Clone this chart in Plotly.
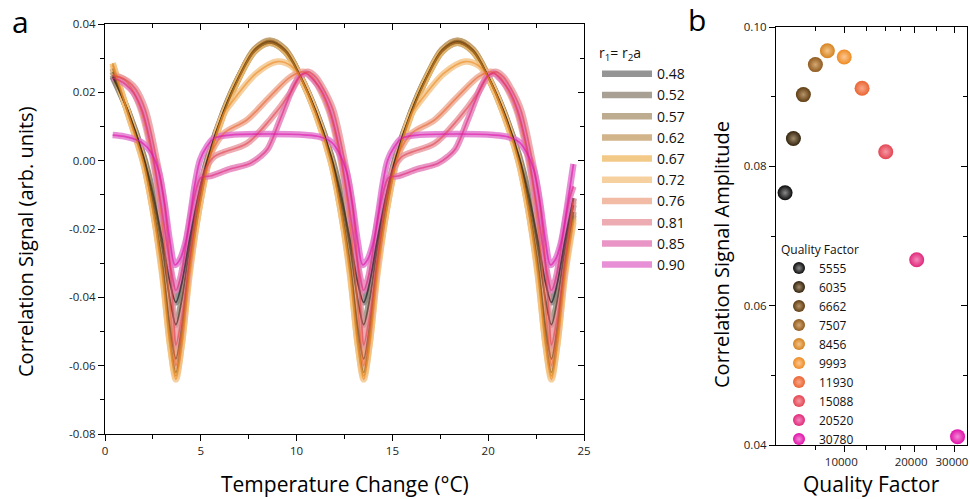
import plotly.graph_objects as go

# ---------------- Panel a data ----------------
r_labels = ["0.48", "0.52", "0.57", "0.62", "0.67", "0.72", "0.76", "0.81", "0.85", "0.90"]

x_dark = [0.4, 1.2, 2.0, 2.5, 3.0, 3.4, 3.7, 4.0, 4.4, 4.9, 5.4, 6.2, 7.0, 7.8, 8.6, 9.4, 10.2, 11.0, 11.8,
          12.3, 12.8, 13.2, 13.5, 13.8, 14.2, 14.7, 15.2, 16.0, 16.8, 17.6, 18.4, 19.2, 20.0, 20.8, 21.6,
          22.1, 22.6, 23.0, 23.3, 23.6, 24.0, 24.45]
y_048 = [0.0245, 0.0145, 0.0015, -0.0095, -0.0235, -0.036, -0.0415, -0.036, -0.0235, -0.0095, 0.0015, 0.0145,
         0.0245, 0.032, 0.0345, 0.032, 0.0245, 0.0145, 0.0015, -0.0095, -0.0235, -0.036, -0.0415, -0.036,
         -0.0235, -0.0095, 0.0015, 0.0145, 0.0245, 0.032, 0.0345, 0.032, 0.0245, 0.0145, 0.0015, -0.0095,
         -0.0235, -0.036, -0.0415, -0.036, -0.0235, -0.011]
y_052 = [0.025, 0.0145, 0.001, -0.011, -0.026, -0.041, -0.048, -0.041, -0.026, -0.011, 0.001, 0.0145,
         0.0247, 0.0323, 0.0348, 0.0323, 0.0247, 0.0145, 0.001, -0.011, -0.026, -0.041, -0.048, -0.041,
         -0.026, -0.011, 0.001, 0.0145, 0.0247, 0.0323, 0.0348, 0.0323, 0.0247, 0.0145, 0.001, -0.011,
         -0.026, -0.041, -0.048, -0.041, -0.026, -0.013]
y_057 = [0.026, 0.0142, 0.0005, -0.013, -0.030, -0.049, -0.058, -0.049, -0.030, -0.013, 0.0005, 0.0142,
         0.0245, 0.0325, 0.035, 0.0325, 0.0245, 0.0142, 0.0005, -0.013, -0.030, -0.049, -0.058, -0.049,
         -0.030, -0.013, 0.0005, 0.0142, 0.0245, 0.0325, 0.035, 0.0325, 0.0245, 0.0142, 0.0005, -0.013,
         -0.030, -0.049, -0.058, -0.049, -0.030, -0.015]
y_062 = [0.027, 0.014, 0.0, -0.014, -0.032, -0.052, -0.062, -0.052, -0.032, -0.014, 0.0, 0.014,
         0.0245, 0.0325, 0.0352, 0.0325, 0.0245, 0.014, 0.0, -0.014, -0.032, -0.052, -0.062, -0.052,
         -0.032, -0.014, 0.0, 0.014, 0.0245, 0.0325, 0.0352, 0.0325, 0.0245, 0.014, 0.0, -0.014,
         -0.032, -0.052, -0.062, -0.052, -0.032, -0.016]
y_067 = [0.0285, 0.0138, -0.0005, -0.0145, -0.033, -0.054, -0.063, -0.054, -0.033, -0.0145, -0.0005, 0.0138,
         0.0243, 0.032, 0.0345, 0.032, 0.0243, 0.0138, -0.0005, -0.0145, -0.033, -0.054, -0.063, -0.054,
         -0.033, -0.0145, -0.0005, 0.0138, 0.0243, 0.032, 0.0345, 0.032, 0.0243, 0.0138, -0.0005, -0.0145,
         -0.033, -0.054, -0.063, -0.054, -0.033, -0.017]

x_072 = [0.4, 1.2, 2.0, 2.5, 3.0, 3.4, 3.7, 4.0, 4.4, 4.9, 5.4, 6.2, 6.6, 7.9, 9.0, 9.7, 10.2, 11.0, 11.8,
         12.3, 12.8, 13.2, 13.5, 13.8, 14.2, 14.7, 15.2, 16.0, 16.4, 17.7, 18.8, 19.5, 20.0, 20.8, 21.6,
         22.1, 22.6, 23.0, 23.3, 23.6, 24.0, 24.45]
y_072 = [0.028, 0.0138, -0.0005, -0.0145, -0.034, -0.054, -0.064, -0.054, -0.034, -0.0145, -0.0005, 0.0138,
         0.017, 0.0256, 0.029, 0.0278, 0.0243, 0.0138, -0.0005, -0.0145, -0.034, -0.054, -0.064, -0.054,
         -0.034, -0.0145, -0.0005, 0.0138, 0.017, 0.0256, 0.029, 0.0278, 0.0243, 0.0138, -0.0005, -0.0145,
         -0.034, -0.054, -0.064, -0.054, -0.034, -0.018]

x_076 = [0.4, 1.0, 1.4, 1.9, 2.4, 2.9, 3.3, 3.55, 3.7, 4.0, 4.4, 4.8, 5.2, 5.6, 6.2, 7.4, 8.6, 9.7, 10.35,
         10.8, 11.2, 11.7, 12.2, 12.7, 13.1, 13.35, 13.5, 13.8, 14.2, 14.6, 15.0, 15.4, 16.0, 17.2, 18.4,
         19.5, 20.15, 20.6, 21.0, 21.5, 22.0, 22.5, 22.9, 23.15, 23.3, 23.6, 24.0, 24.45]
y_076 = [0.0252, 0.0238, 0.021, 0.0145, 0.003, -0.014, -0.037, -0.053, -0.060, -0.050, -0.031, -0.014,
         -0.004, 0.003, 0.008, 0.0119, 0.0187, 0.0246, 0.026, 0.0245, 0.021, 0.0145, 0.003, -0.014, -0.037,
         -0.053, -0.060, -0.050, -0.031, -0.014, -0.004, 0.003, 0.008, 0.0119, 0.0187, 0.0246, 0.026,
         0.0245, 0.021, 0.0145, 0.003, -0.014, -0.037, -0.053, -0.060, -0.050, -0.031, -0.012]

x_081 = [0.4, 0.8, 1.2, 1.6, 2.1, 2.6, 3.1, 3.45, 3.6, 3.7, 4.0, 4.4, 4.8, 5.2, 5.7, 6.2, 7.4, 8.6, 9.66,
         10.18, 10.6, 11.0, 11.4, 11.9, 12.4, 12.9, 13.25, 13.4, 13.5, 13.8, 14.2, 14.6, 15.0, 15.5, 16.0,
         17.2, 18.4, 19.46, 19.98, 20.4, 20.8, 21.2, 21.7, 22.2, 22.7, 23.05, 23.2, 23.3, 23.6, 24.0, 24.45]
y_081 = [0.0248, 0.0243, 0.0232, 0.021, 0.015, 0.003, -0.013, -0.035, -0.048, -0.054, -0.046, -0.029,
         -0.013, -0.003, 0.0012, 0.0025, 0.005, 0.0119, 0.0197, 0.0246, 0.026, 0.0245, 0.021, 0.015, 0.003,
         -0.013, -0.035, -0.048, -0.054, -0.046, -0.029, -0.013, -0.003, 0.0012, 0.0025, 0.005, 0.0119,
         0.0197, 0.0246, 0.026, 0.0245, 0.021, 0.015, 0.003, -0.013, -0.035, -0.048, -0.054, -0.046,
         -0.029, -0.011]

x_085 = [0.4, 0.7, 1.1, 1.5, 1.95, 2.45, 2.9, 3.3, 3.55, 3.7, 3.95, 4.3, 4.65, 5.0, 5.5, 6.5, 7.57, 8.1,
         8.5, 9.13, 9.83, 10.2, 10.5, 10.9, 11.3, 11.75, 12.25, 12.7, 13.1, 13.35, 13.5, 13.75, 14.1, 14.45,
         14.8, 15.3, 16.3, 17.37, 17.9, 18.3, 18.93, 19.63, 20.0, 20.3, 20.7, 21.1, 21.55, 22.05, 22.5, 22.9,
         23.15, 23.3, 23.55, 23.9, 24.25, 24.45]
y_085 = [0.0242, 0.0236, 0.0222, 0.0198, 0.0145, 0.003, -0.012, -0.027, -0.035, -0.038, -0.034, -0.022,
         -0.011, -0.005, -0.0045, -0.0025, -0.0008, 0.0012, 0.0035, 0.0119, 0.0217, 0.025, 0.0255, 0.0235,
         0.0205, 0.0145, 0.003, -0.012, -0.027, -0.035, -0.038, -0.034, -0.022, -0.011, -0.005, -0.0045,
         -0.0025, -0.0008, 0.0012, 0.0035, 0.0119, 0.0217, 0.025, 0.0255, 0.0235, 0.0205, 0.0145, 0.003,
         -0.012, -0.027, -0.035, -0.038, -0.034, -0.022, -0.011, -0.0075]

x_090 = [0.4, 1.0, 1.6, 2.0, 2.4, 2.8, 3.1, 3.4, 3.65, 3.9, 4.2, 4.45, 4.7, 4.96, 5.3, 5.7, 6.5, 8.6, 10.5,
         11.2, 11.8, 12.2, 12.6, 12.9, 13.2, 13.45, 13.7, 14.0, 14.25, 14.5, 14.76, 15.1, 15.5, 16.3, 18.4,
         20.3, 21.0, 21.6, 22.0, 22.4, 22.7, 23.0, 23.25, 23.5, 23.8, 24.05, 24.3, 24.45]
y_090 = [0.0075, 0.0071, 0.0062, 0.005, 0.0025, -0.003, -0.012, -0.024, -0.0305, -0.029, -0.024, -0.016,
         -0.0066, 0.0002, 0.004, 0.0066, 0.0075, 0.0078, 0.0075, 0.007, 0.0055, 0.0025, -0.003, -0.012,
         -0.024, -0.0305, -0.029, -0.024, -0.016, -0.0066, 0.0002, 0.004, 0.0066, 0.0075, 0.0078, 0.0075,
         0.007, 0.0055, 0.0025, -0.003, -0.012, -0.024, -0.0305, -0.029, -0.024, -0.016, -0.0066, -0.001]

series_x = [x_dark, x_dark, x_dark, x_dark, x_dark, x_072, x_076, x_081, x_085, x_090]
series_y = [y_048, y_052, y_057, y_062, y_067, y_072, y_076, y_081, y_085, y_090]

r_colors = ["#7a7a7a", "#918878", "#ad9774", "#c6a16d", "#efbb68", "#f4c486",
            "#eeaa90", "#e9979f", "#e47cb8", "#e274cc"]

# ---------------- Panel b data ----------------
q_factor = [5555, 6035, 6662, 7507, 8456, 9993, 11930, 15088, 20520, 30780]
amplitude = [0.0762, 0.0840, 0.0903, 0.0946, 0.0966, 0.0957, 0.0912, 0.0821, 0.0666, 0.0412]
q_colors = ["#0a0a0a", "#33230d", "#5e3c12", "#8f5a1e", "#d4821e", "#ee8a22",
            "#ea6432", "#e44452", "#e0287a", "#e010a8"]
q_light = ["#8a8a8a", "#a08a6a", "#b89468", "#d4a874", "#f4c48a", "#fcc894",
           "#f8a888", "#f49aa4", "#f48abc", "#f48ad8"]

ya_ticks = [-0.08, -0.06, -0.04, -0.02, 0.0, 0.02, 0.04]
ya_text = ["-0.08", "-0.06", "-0.04", "-0.02", "0.00", "0.02", "0.04"]
xa_ticks = [0, 5, 10, 15, 20, 25]
yb_ticks = [0.04, 0.06, 0.08, 0.10]
yb_text = ["0.04", "0.06", "0.08", "0.10"]
xb_ticks = [10000, 20000, 30000]
xb_text = ["10000", "20000", "30000"]
xb_minor = [7500, 12500, 15000, 17500, 25000]

FONT = "Open Sans"

fig = go.Figure()

# thick pale tubes first
for i in range(len(r_labels)):
    fig.add_trace(go.Scatter(
        x=series_x[i], y=series_y[i], mode="lines", name=r_labels[i],
        line=dict(color=r_colors[i], width=6.5, shape="spline", smoothing=0.9),
        opacity=0.8, xaxis="x", yaxis="y", legend="legend", hoverinfo="skip"))
# thin cores on top
for i in range(len(r_labels)):
    fig.add_trace(go.Scatter(
        x=series_x[i], y=series_y[i], mode="lines", showlegend=False,
        line=dict(color=q_colors[i], width=1.7, shape="spline", smoothing=0.9),
        opacity=0.6, xaxis="x", yaxis="y", hoverinfo="skip"))

for i in range(len(q_factor)):
    fig.add_trace(go.Scatter(
        x=[q_factor[i]], y=[amplitude[i]], mode="markers", name=str(q_factor[i]),
        marker=dict(size=15, color=q_colors[i], line=dict(width=0),
                    gradient=dict(type="radial", color=q_light[i])),
        xaxis="x2", yaxis="y2", legend="legend2", hoverinfo="skip"))

# empty traces to materialise the mirrored tick axes
fig.add_trace(go.Scatter(x=[], y=[], xaxis="x3", yaxis="y3", showlegend=False))
fig.add_trace(go.Scatter(x=[], y=[], xaxis="x4", yaxis="y4", showlegend=False))

dom_ax = [105 / 970, 584 / 970]
dom_ay = [1 - 434 / 499, 1 - 24 / 499]
dom_bx = [776 / 970, 967 / 970]
dom_by = [1 - 445 / 499, 1 - 27 / 499]

axis_common = dict(showline=True, linecolor="black", linewidth=1.3, showgrid=False, zeroline=False,
                   ticks="outside", ticklen=6, tickwidth=1.2, tickcolor="black",
                   tickfont=dict(family=FONT, size=11.5, color="#222"), mirror=True,
                   ticklabeloverflow="allow")
over_common = dict(showline=False, showgrid=False, zeroline=False, ticks="inside", ticklen=6,
                   tickwidth=1.2, tickcolor="black", showticklabels=False)

fig.update_layout(
    width=970, height=499, margin=dict(l=0, r=0, t=0, b=0),
    paper_bgcolor="white", plot_bgcolor="white",
    font=dict(family=FONT, color="black"),
    xaxis=dict(domain=dom_ax, range=[0, 25], anchor="y", tickmode="array", tickvals=xa_ticks,
               minor=dict(dtick=2.5, tick0=0, ticks="outside", ticklen=4, tickcolor="black"),
               automargin=False, **axis_common),
    yaxis=dict(domain=dom_ay, range=[-0.08, 0.04], anchor="x", tickmode="array", tickvals=ya_ticks,
               ticktext=ya_text,
               minor=dict(dtick=0.01, tick0=0, ticks="outside", ticklen=4, tickcolor="black"),
               automargin=False, **axis_common),
    xaxis3=dict(overlaying="x", anchor="y3", side="top", range=[0, 25], tickmode="array", tickvals=xa_ticks,
                minor=dict(dtick=2.5, tick0=0, ticks="inside", ticklen=4, tickcolor="black"), **over_common),
    yaxis3=dict(overlaying="y", anchor="x3", side="right", range=[-0.08, 0.04], tickmode="array",
                tickvals=ya_ticks,
                minor=dict(dtick=0.01, tick0=0, ticks="inside", ticklen=4, tickcolor="black"), **over_common),
    xaxis2=dict(domain=dom_bx, type="log", range=[3.7056, 4.529], anchor="y2", tickmode="array",
                tickvals=xb_ticks, ticktext=xb_text, ticklabelshift=-3,
                minor=dict(tickmode="array", tickvals=xb_minor, ticks="outside", ticklen=4, tickcolor="black"),
                automargin=False, **axis_common),
    yaxis2=dict(domain=dom_by, range=[0.04, 0.10], anchor="x2", tickmode="array", tickvals=yb_ticks,
                ticktext=yb_text,
                minor=dict(dtick=0.01, tick0=0, ticks="outside", ticklen=4, tickcolor="black"),
                automargin=False, **axis_common),
    xaxis4=dict(overlaying="x2", anchor="y4", side="top", type="log", range=[3.7056, 4.529], tickmode="array",
                tickvals=xb_ticks,
                minor=dict(tickmode="array", tickvals=xb_minor, ticks="inside", ticklen=4, tickcolor="black"),
                **over_common),
    yaxis4=dict(overlaying="y2", anchor="x4", side="right", range=[0.04, 0.10], tickmode="array",
                tickvals=yb_ticks,
                minor=dict(dtick=0.01, tick0=0, ticks="inside", ticklen=4, tickcolor="black"), **over_common),
    legend=dict(x=597 / 970, y=1 - 40 / 499, xanchor="left", yanchor="top", bgcolor="rgba(0,0,0,0)",
                title=dict(text="r<sub>1</sub>= r<sub>2</sub>a", font=dict(family=FONT, size=14)),
                font=dict(family=FONT, size=14, color="#111"), itemwidth=50),
    legend2=dict(x=779 / 970, y=1 - 238 / 499, xanchor="left", yanchor="top", bgcolor="rgba(0,0,0,0)",
                 title=dict(text="Quality Factor", font=dict(family=FONT, size=12)),
                 font=dict(family=FONT, size=12, color="#111"), itemsizing="constant"),
    showlegend=True,
    hovermode=False,
)

annots = [
    dict(text="a", x=20 / 970, y=1 - 21 / 499, size=30, angle=0),
    dict(text="b", x=697 / 970, y=1 - 19 / 499, size=30, angle=0),
    dict(text="Correlation Signal (arb. units)", x=25 / 970, y=1 - 242 / 499, size=20, angle=-90),
    dict(text="Temperature Change (°C)", x=345 / 970, y=1 - 484 / 499, size=21, angle=0),
    dict(text="Correlation Signal Amplitude", x=722 / 970, y=1 - 255 / 499, size=20, angle=-90),
    dict(text="Quality Factor", x=871 / 970, y=1 - 484 / 499, size=21, angle=0),
]
for a in annots:
    fig.add_annotation(xref="paper", yref="paper", showarrow=False, xanchor="center", yanchor="middle",
                       text=a["text"], x=a["x"], y=a["y"], textangle=a["angle"],
                       font=dict(family=FONT, color="black", size=a["size"]))

fig.write_html("out.html", config={"displayModeBar": False},
               post_script="document.body.style.margin='0px';document.body.style.overflow='hidden';")
